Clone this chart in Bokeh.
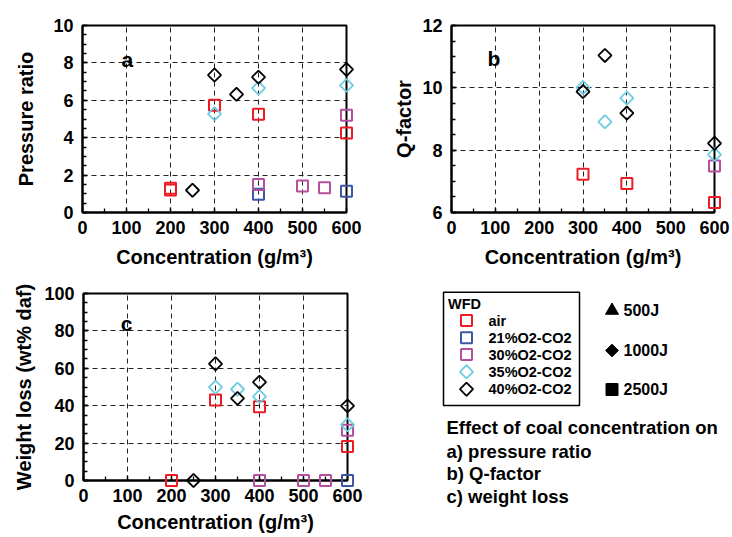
import numpy as np
from bokeh.plotting import figure
from bokeh.models import Range1d, SingleIntervalTicker, Label, ColumnDataSource
from bokeh.layouts import column, row
from bokeh.core.properties import value
from bokeh.embed import file_html
from bokeh.resources import INLINE

FONT = "Liberation Sans"

# ---------------- data ----------------
series_names = ["air", "21%O2-CO2", "30%O2-CO2", "35%O2-CO2", "40%O2-CO2"]
series_colors = ["#EC1C24", "#3E56A6", "#B5509F", "#6CCDE0", "#000000"]
series_markers = ["square", "square", "square", "diamond", "diamond"]

# (a) pressure ratio
a_air_x = [200, 200, 300, 400, 600]
a_air_y = [1.2, 1.3, 5.73, 5.25, 4.25]
a_o21_x = [400, 600]
a_o21_y = [0.98, 1.14]
a_o30_x = [400, 500, 550, 600]
a_o30_y = [1.5, 1.42, 1.33, 5.2]
a_o35_x = [300, 400, 600]
a_o35_y = [5.28, 6.65, 6.8]
a_o40_x = [250, 300, 350, 400, 600]
a_o40_y = [1.19, 7.35, 6.32, 7.24, 7.65]

# (b) Q-factor
b_air_x = [300, 400, 600]
b_air_y = [7.23, 6.93, 6.32]
b_o21_x = []
b_o21_y = []
b_o30_x = [600]
b_o30_y = [7.49]
b_o35_x = [300, 350, 400, 600]
b_o35_y = [10.01, 8.91, 9.67, 7.86]
b_o40_x = [300, 350, 400, 600]
b_o40_y = [9.88, 11.04, 9.19, 8.22]

# (c) weight loss
c_air_x = [200, 300, 400, 600]
c_air_y = [0, 43.0, 39.4, 18.2]
c_o21_x = [600]
c_o21_y = [0]
c_o30_x = [400, 500, 550, 600]
c_o30_y = [0, 0, 0, 26.9]
c_o35_x = [300, 350, 400, 600]
c_o35_y = [49.9, 48.8, 44.9, 29.8]
c_o40_x = [250, 300, 350, 400, 600]
c_o40_y = [0, 62.4, 43.9, 52.6, 39.9]

x_label = "Concentration (g/m\u00b3)"
energy_labels = ["500J", "1000J", "2500J"]
note_lines = ["Effect of coal concentration on", "a) pressure ratio",
              "b) Q-factor", "c) weight loss"]

# draw order: 21%, 30%, air, 35%, 40%
draw_order = [1, 2, 0, 3, 4]


def style_axes(p, y_interval, y_label, y_standoff, x_tick_standoff, x_label_standoff):
    p.xaxis.ticker = SingleIntervalTicker(interval=100, num_minor_ticks=2)
    p.yaxis.ticker = SingleIntervalTicker(interval=y_interval, num_minor_ticks=4)
    for ax in (p.xaxis[0], p.yaxis[0]):
        ax.axis_line_color = "black"
        ax.axis_line_width = 2
        ax.major_tick_in = 5
        ax.major_tick_out = 0
        ax.minor_tick_in = 4
        ax.minor_tick_out = 0
        ax.major_tick_line_width = 1.3
        ax.minor_tick_line_width = 1.3
        ax.major_tick_line_color = "black"
        ax.minor_tick_line_color = "black"
        ax.major_label_text_font = FONT
        ax.major_label_text_font_style = "bold"
        ax.major_label_text_font_size = "18px"
        ax.major_label_text_color = "black"
        ax.axis_label_text_font = FONT
        ax.axis_label_text_font_style = "bold"
        ax.axis_label_text_font_size = "20px"
        ax.axis_label_text_color = "black"
    p.xaxis.major_label_standoff = x_tick_standoff
    p.xaxis.axis_label_standoff = x_label_standoff
    p.yaxis.major_label_standoff = 9
    p.yaxis.axis_label_standoff = y_standoff
    p.xaxis.axis_label = x_label
    p.yaxis.axis_label = y_label
    for g in (p.xgrid[0], p.ygrid[0]):
        g.grid_line_color = "#222222"
        g.grid_line_dash = "5 4"
        g.grid_line_width = 1
    p.outline_line_color = "black"
    p.outline_line_width = 2
    p.background_fill_color = "white"
    p.border_fill_color = "white"


def add_series(p, xs, ys):
    for i in draw_order:
        if len(xs[i]) == 0:
            continue
        src = ColumnDataSource(dict(x=xs[i], y=ys[i]))
        if series_markers[i] == "square":
            r = p.scatter("x", "y", source=src, marker="square", size=11,
                          fill_color=None, line_color=series_colors[i], line_width=2)
        else:
            r = p.scatter("x", "y", source=src, marker="square", size=9.3,
                          angle=np.pi / 4, fill_color=None,
                          line_color=series_colors[i], line_width=1.8)
        r.level = "overlay"


def make_panel(w, h, yr, borders):
    l, r, t, b = borders
    p = figure(width=w, height=h, output_backend="svg", toolbar_location=None,
               x_range=Range1d(0, 600), y_range=Range1d(*yr),
               min_border_left=l, min_border_right=r,
               min_border_top=t, min_border_bottom=b)
    return p


def panel_letter(p, x, y, txt):
    p.add_layout(Label(x=x, y=y, text=txt, text_align="center",
                       text_baseline="alphabetic", text_font=FONT,
                       text_color="black",
                       text_font_style="bold", text_font_size="21px"))


pa = make_panel(370, 271, (0, 10), (82, 24, 25, 59))
style_axes(pa, 2, "Pressure ratio", 13, 8, 9)
add_series(pa, [a_air_x, a_o21_x, a_o30_x, a_o35_x, a_o40_x],
           [a_air_y, a_o21_y, a_o30_y, a_o35_y, a_o40_y])
panel_letter(pa, 102, 8.2, "a")

pb = make_panel(362, 271, (6, 12), (81, 18, 24, 59))
style_axes(pb, 2, "Q-factor", 4, 8, 9)
add_series(pb, [b_air_x, b_o21_x, b_o30_x, b_o35_x, b_o40_x],
           [b_air_y, b_o21_y, b_o30_y, b_o35_y, b_o40_y])
panel_letter(pb, 97, 10.95, "b")

pc = make_panel(370, 266, (0, 100), (83, 23, 22, 57))
style_axes(pc, 20, "Weight loss (wt% daf)", 6, 8, 6)
add_series(pc, [c_air_x, c_o21_x, c_o30_x, c_o35_x, c_o40_x],
           [c_air_y, c_o21_y, c_o30_y, c_o35_y, c_o40_y])
panel_letter(pc, 98, 84, "c")

# ---------------- legend / notes panel ----------------
# frame spans the same vertical band as panel c; data y == pixel y inside this figure
pd = figure(width=362, height=266, output_backend="svg", toolbar_location=None,
            x_range=Range1d(0, 362), y_range=Range1d(209, 22),
            min_border_left=0, min_border_right=0,
            min_border_top=22, min_border_bottom=57)
pd.axis.visible = False
pd.grid.visible = False
pd.outline_line_color = None
pd.background_fill_color = "white"
pd.border_fill_color = "white"

renderers = []
# legend box
box_l, box_r, box_t, box_b = 73, 209, 20.7, 134
renderers.append(pd.quad(left=[box_l], right=[box_r], top=[box_t], bottom=[box_b],
                         fill_color=None, line_color="black", line_width=1.5))
renderers.append(pd.text(x=[77.5], y=[32], text=["WFD"], text_font=value(FONT),
                         text_font_style="bold", text_font_size="14.5px",
                         text_baseline="middle", text_align="left"))
leg_mx, leg_tx = 96, 118
leg_rows = [49, 66.3, 83, 100.3, 117.7]
for i in range(5):
    if series_markers[i] == "square":
        r = pd.scatter(x=[leg_mx], y=[leg_rows[i]], marker="square", size=11,
                       fill_color=None, line_color=series_colors[i], line_width=2)
    else:
        r = pd.scatter(x=[leg_mx], y=[leg_rows[i]], marker="square", size=9.3,
                       angle=np.pi / 4, fill_color=None,
                       line_color=series_colors[i], line_width=1.8)
    renderers.append(r)
renderers.append(pd.text(x=[leg_tx] * 5, y=leg_rows, text=series_names,
                         text_font=value(FONT), text_font_style="bold",
                         text_font_size="14.5px", text_baseline="middle",
                         text_align="left"))

# energy key
en_mx, en_tx = 241.5, 253
en_rows = [39, 79, 118]
renderers.append(pd.scatter(x=[en_mx], y=[en_rows[0]], marker="triangle", size=13,
                            fill_color="black", line_color="black"))
renderers.append(pd.scatter(x=[en_mx], y=[en_rows[1]], marker="square", size=9,
                            angle=np.pi / 4, fill_color="black", line_color="black"))
renderers.append(pd.scatter(x=[en_mx], y=[en_rows[2]], marker="square", size=12,
                            fill_color="black", line_color="black"))
renderers.append(pd.text(x=[en_tx] * 3, y=en_rows, text=energy_labels,
                         text_font=value(FONT), text_font_style="bold",
                         text_font_size="16px", text_baseline="middle",
                         text_align="left"))

# notes
note_rows = [156.3, 179.7, 201.7, 225]
renderers.append(pd.text(x=[76] * 4, y=note_rows, text=note_lines,
                         text_font=value(FONT), text_font_style="bold",
                         text_font_size="18.5px", text_baseline="middle",
                         text_align="left"))
for r in renderers:
    r.level = "overlay"

layout = column(row(pa, pb), row(pc, pd))
open("out.html", "w").write(file_html(layout, INLINE))
